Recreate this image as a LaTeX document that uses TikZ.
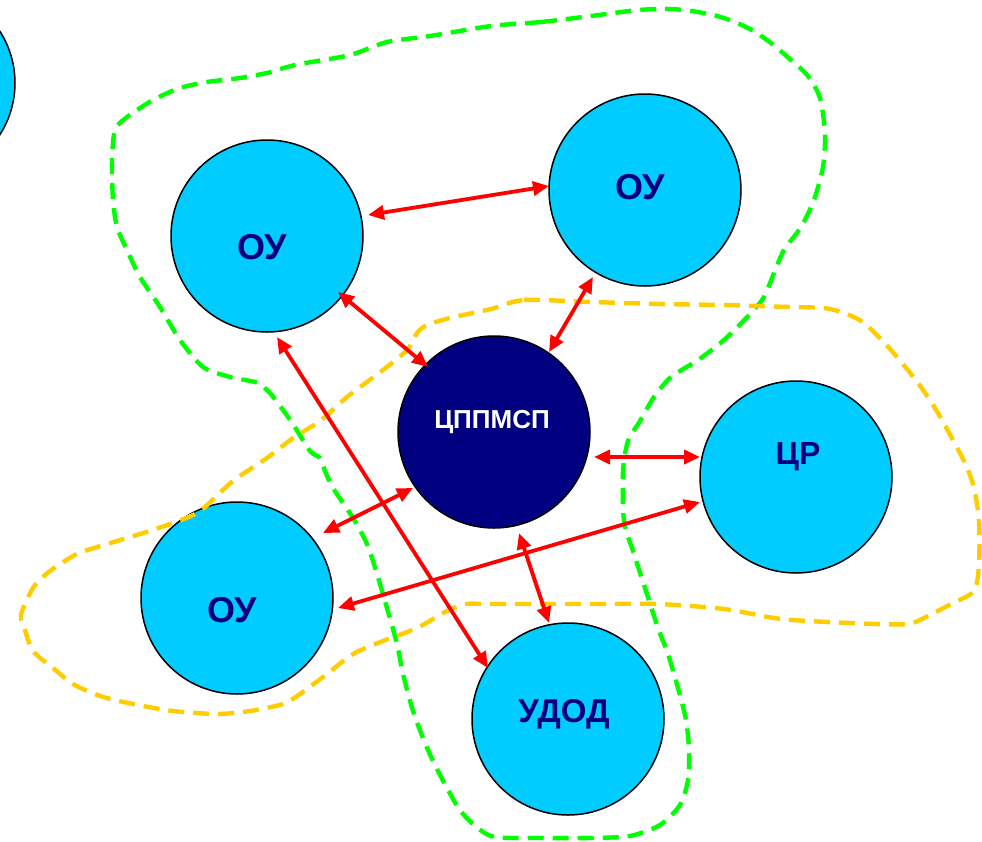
\documentclass[tikz,border=0pt]{standalone}
\usepackage{fontspec}
\setmainfont{Liberation Sans}
\usetikzlibrary{arrows.meta}
\definecolor{cyanfill}{HTML}{00CCFF}
\definecolor{navy}{HTML}{000080}
\definecolor{grn}{HTML}{00FF00}
\definecolor{ylw}{HTML}{FFCC00}
\definecolor{rd}{HTML}{FF0000}
\tikzset{
  org/.style={circle, draw=black, line width=0.75pt, fill=cyanfill, minimum size=96pt, inner sep=0pt},
  center/.style={circle, draw=black, line width=0.75pt, fill=navy, minimum size=96pt, inner sep=0pt},
  lbl/.style={text=navy, font=\bfseries, inner sep=0pt},
  conn/.style={draw=rd, line width=1.9pt, {Triangle[length=8pt,width=7pt]}-{Triangle[length=8pt,width=7pt]}},
  gline/.style={draw=grn, line width=2.2pt, dash pattern=on 8pt off 4.5pt},
  yline/.style={draw=ylw, line width=2.2pt, dash pattern=on 8pt off 4.5pt}
}
\begin{document}
\begin{tikzpicture}[x=0.5pt,y=-0.5pt]
\useasboundingbox (0,0) rectangle (982,842);
% circles
\node[org] (c0) at (-81,83) {};
\node[org] (c1) at (267,236) {};
\node[org] (c2) at (645,190) {};
\node[center] (cm) at (494,432) {};
\node[org] (cr) at (796,477) {};
\node[org] (c3) at (237,598) {};
\node[org] (ud) at (568,719) {};
% labels
\node[lbl, font=\fontsize{18}{18}\bfseries\selectfont] (t1) at (262,247) {ОУ};
\node[lbl, font=\fontsize{18}{18}\bfseries\selectfont] (t2) at (640,187) {ОУ};
\node[lbl, font=\fontsize{18}{18}\bfseries\selectfont] (t3) at (232,610) {ОУ};
\node[lbl, font=\fontsize{16}{16}\bfseries\selectfont] (tr) at (798,457) {ЦР};
\node[lbl, font=\fontsize{16.5}{16.5}\bfseries\selectfont] (tu) at (564,714) {УДОД};
\node[lbl, text=white, font=\fontsize{13}{13}\bfseries\selectfont] (tm) at (492,422) {ЦППМСП};
% green dashed boundary
\draw[gline] plot[smooth cycle, tension=0.45] coordinates {
(491,26) (541,22) (591,16) (638,10) (671,9) (698,12) (724,18) (750,29) (771,43) (791,60) (808,76) (820,98) (825,133) (823,167) (814,200) (801,227) (784,250) (774,273) (764,297) (751,313) (724,340) (698,360) (671,377) (654,397) (640,421) (628,441) (623,471) (624,521) (634,554) (645,588) (658,628) (668,654) (678,688) (686,720) (689,750) (688,780) (680,805) (660,825) (630,836) (590,838) (540,838) (491,836) (463,814) (447,788) (433,761) (423,738) (413,711) (403,674) (397,644) (387,608) (377,574) (367,544) (353,518) (333,488) (325,471) (320,458) (310,451) (293,424) (283,410) (270,393) (258,383) (245,380) (230,377) (203,367) (180,340) (160,307) (140,277) (127,250) (117,227) (113,200) (112,160) (115,130) (127,117) (153,100) (180,88) (207,82) (240,78) (267,73) (280,69) (300,64) (350,55) (387,42) (430,36)};
% yellow dashed boundary
\draw[yline] plot[smooth cycle, tension=0.45] coordinates {
(491,309) (524,300) (591,302) (660,304) (724,305) (790,307) (824,308) (844,313) (864,323) (891,350) (918,383) (938,413) (964,461) (974,488) (979,521) (979,564) (974,591) (951,604) (924,618) (908,624) (874,624) (808,621) (774,618) (724,609) (658,604) (591,604) (491,604) (467,604) (447,611) (417,628) (383,641) (353,654) (327,674) (300,694) (283,704) (250,711) (217,714) (173,711) (133,704) (100,696) (73,684) (53,668) (33,651) (25,630) (21,615) (33,588) (50,571) (77,554) (107,544) (140,534) (173,523) (200,511) (233,481) (267,458) (293,438) (320,421) (347,397) (383,370) (407,350) (417,333) (427,325) (450,318)};
% connector endpoints
\coordinate (a1s) at (368,215); \coordinate (a1e) at (549,186);
\coordinate (a2s) at (338,292); \coordinate (a2e) at (428,367);
\coordinate (a3s) at (593,277); \coordinate (a3e) at (549,352);
\coordinate (a4s) at (594,457); \coordinate (a4e) at (700,457);
\coordinate (a5s) at (323,533); \coordinate (a5e) at (413,488);
\coordinate (a6s) at (338,608); \coordinate (a6e) at (700,502);
\coordinate (a7s) at (277,337); \coordinate (a7e) at (488,668);
\coordinate (a8s) at (519,533); \coordinate (a8e) at (549,623);
% connectors
\draw[conn] (a1s) -- (a1e);
\draw[conn] (a2s) -- (a2e);
\draw[conn] (a3s) -- (a3e);
\draw[conn] (a4s) -- (a4e);
\draw[conn] (a5s) -- (a5e);
\draw[conn] (a6s) -- (a6e);
\draw[conn] (a7s) -- (a7e);
\draw[conn] (a8s) -- (a8e);
\end{tikzpicture}
\end{document}
